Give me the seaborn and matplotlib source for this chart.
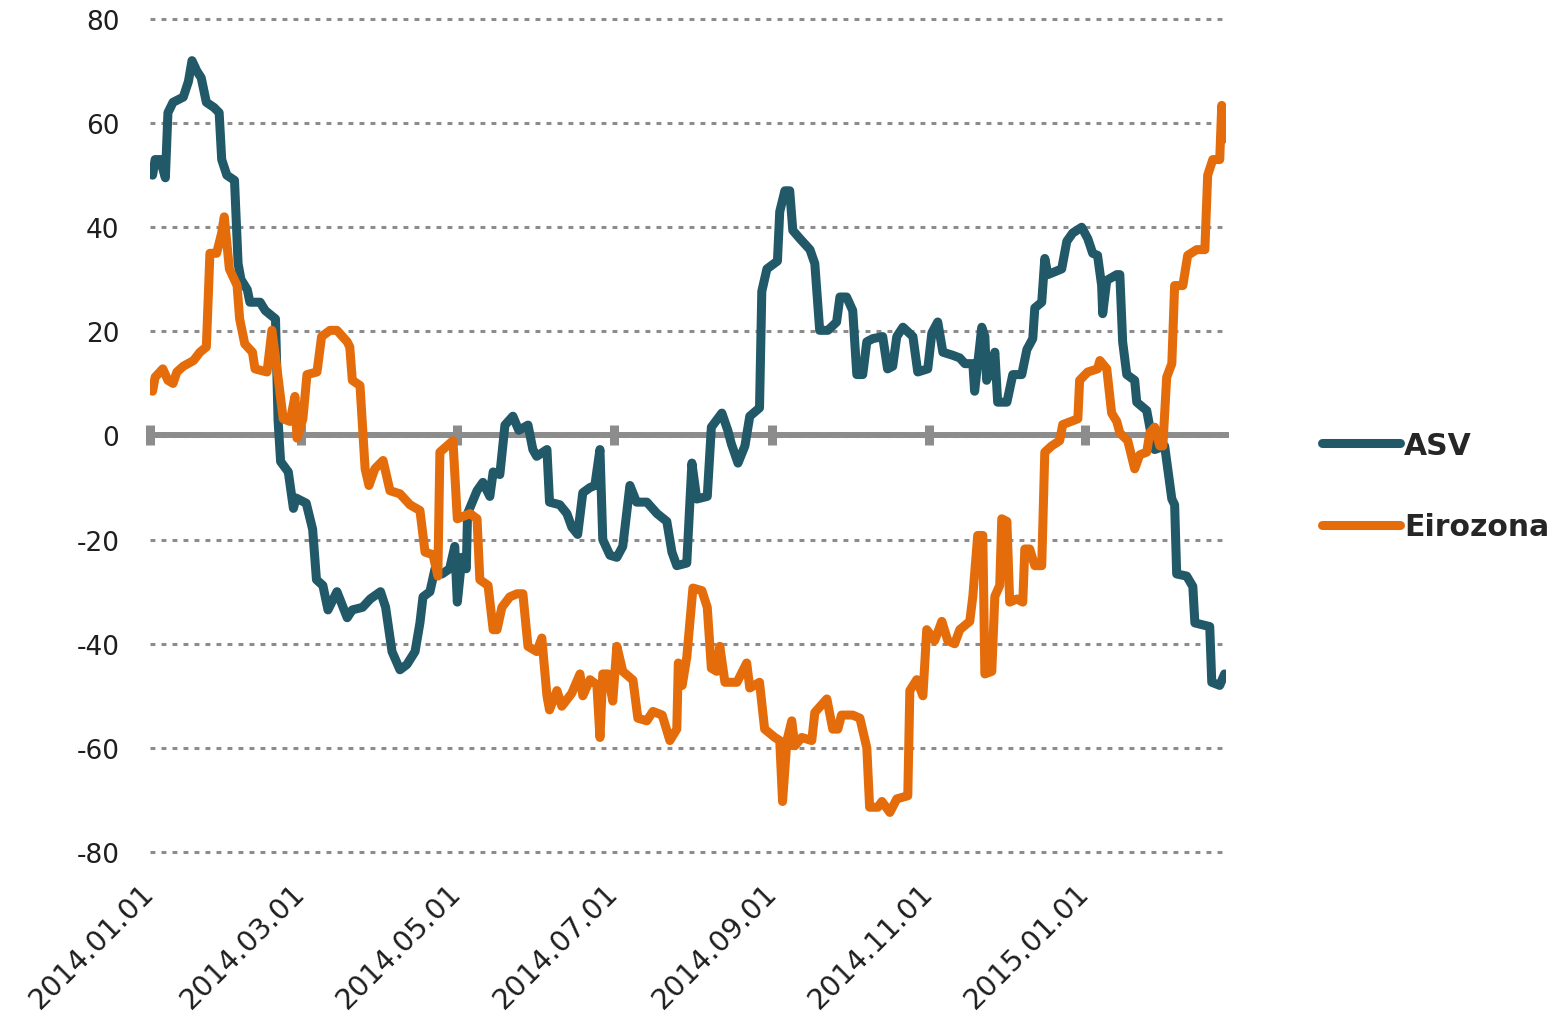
import pandas as pd
import matplotlib
matplotlib.use("Agg")
import matplotlib.pyplot as plt
import matplotlib.dates as mdates
import seaborn as sns

START = pd.Timestamp("2014-01-01")

# values, x as days after 2014-01-01
asv_day = [1, 2, 4, 6, 7, 9, 13, 15, 16.4, 18.3, 20, 22, 25, 27, 28, 30, 33, 34.4, 35.5, 38,
           39, 43, 45, 49, 50, 51, 54, 56, 57, 61, 63.5, 65, 67.5, 69.5, 73, 77, 79, 83, 86, 90,
           92, 94.5, 97.6, 100.3, 103.5, 105.4, 106.6, 109.3, 111.3, 114, 117, 119, 120, 121.8, 123.5, 124, 127.7, 130, 132.7, 134,
           136.6, 138.6, 141.7, 144, 147.6, 149.5, 151, 155, 156, 160, 162.8, 164.7, 167, 169, 171.8, 173.7, 175.7, 176.8, 179.6, 182.3,
           184.6, 187.4, 190, 194, 198, 201.8, 203.8, 205.7, 209.6, 211.6, 213.5, 217.6, 219.2, 223.3, 225.6, 227, 229.6, 232.3, 234.2, 238,
           238.9, 240.9, 245, 245.9, 247.9, 249.8, 251, 253.8, 257.7, 259.6, 261.5, 264.7, 268.1, 269.4, 272, 274.4, 276, 278.3, 279.9, 282.2,
           286.1, 288, 290, 291.6, 294, 297.9, 299.8, 303.7, 305.3, 307.6, 309.6, 313.5, 316.2, 318.2, 321.3, 322, 324.8, 326, 326.7, 328.7,
           329.9, 331, 334.6, 336.9, 340.4, 342.4, 344.7, 345.5, 348.2, 349.4, 350.6, 356, 358, 360.3, 363.8, 366.2, 368.1, 370, 371.6, 372,
           373.6, 377.5, 378.7, 379.8, 381.4, 384.5, 385.3, 389.2, 391.2, 392.3, 396.2, 399, 400.1, 400.9, 404.8, 407.2, 408, 413.8, 414.6, 417.7,
           419.6]
asv_val = [50, 53, 53, 49.5, 62, 64, 65, 68, 72, 70, 68.7, 64, 63, 62, 53, 50, 49, 33, 30, 28,
           25.6, 25.6, 24, 22.4, 3, -5, -7, -14, -12, -13, -18, -27.7, -28.8, -33.5, -30, -35, -33.5, -33, -31.4, -30,
           -33, -41.5, -45, -44, -41.5, -36, -31, -30, -25.6, -26.6, -25.6, -21.3, -32, -23.4, -25.6, -15, -10.6, -9, -11.7, -7,
           -7.5, 2, 3.7, 1, 2, -2.7, -4, -2.7, -12.8, -13.3, -15, -17.6, -19, -11, -10, -9.6, -2.7, -20, -23, -23.4,
           -21.3, -9.6, -12.8, -12.8, -15, -16.5, -22.4, -25, -24.5, -5.3, -12.2, -11.7, 1.6, 4.3, 1, -1.6, -5.3, -2, 3.7, 5.3,
           27.7, 32, 33.5, 43, 47, 47, 39.4, 37.8, 35.7, 33, 20.2, 20.2, 21.8, 26.6, 26.6, 24, 11.7, 11.7, 18, 18.6,
           19, 12.8, 13.3, 19, 20.8, 19, 12.2, 12.8, 19.7, 21.8, 16, 15.4, 14.9, 13.8, 13.8, 8.5, 20.8, 19, 10.6, 13.3,
           16, 6.4, 6.4, 11.7, 11.7, 16.5, 18.6, 24.5, 25.6, 34, 30.9, 32, 37.3, 38.9, 40, 37.8, 35, 34.6, 28.8, 23.4,
           29.8, 30.9, 30.9, 18, 11.7, 10.6, 6.4, 4.8, -0.5, -2.7, -2, -12.2, -13.3, -26.6, -27, -29, -36, -36.7, -47.4, -48,
           -45.8]

eur_day = [1, 2, 5, 7, 9, 10.5, 13, 17, 19.5, 22, 23.4, 26, 28, 29, 31, 34, 35, 37, 40, 41,
           45.7, 47.6, 49.6, 52, 54.7, 56.6, 57.4, 59.7, 61.3, 65.2, 67, 70.3, 73, 77, 78, 79, 82, 84, 85.5, 87.8,
           91, 93.7, 97.6, 101.5, 105.4, 107.4, 110.5, 112.4, 113.2, 116, 118.3, 120, 125, 127.7, 128.8, 132, 134, 135.5, 137.4, 140.5,
           143.3, 145.6, 147.6, 151, 153, 155, 156, 158.9, 160.8, 164.7, 167.9, 169, 171.8, 174.5, 175.7, 176.8, 178.8, 180.7, 182.3, 184.6,
           188.6, 190.5, 194, 196.4, 200, 203, 205.7, 206.3, 207.8, 209.6, 212, 215.5, 217.6, 219.2, 221.3, 222.5, 224.5, 229.2, 233, 234.2,
           238, 240, 244, 245.9, 247, 248.7, 250.6, 251.8, 254.5, 258.4, 259.6, 264.3, 266.6, 268.6, 270, 274.4, 277.2, 279.9, 281, 284.2,
           285.8, 288.9, 291.6, 295.9, 296.7, 299.4, 301.8, 303.3, 306.4, 309.2, 311.5, 314.2, 316.2, 320.1, 321.3, 323.2, 325.2, 326, 328.7, 329.9,
           331.8, 332.6, 334.6, 335.7, 338.5, 340.8, 341.6, 343.5, 345.5, 348.2, 349.4, 352.1, 355.2, 356.4, 362.3, 363, 366.2, 370, 370.9, 373.6,
           375.5, 377.5, 378.7, 381.8, 384.5, 386.5, 389.2, 390.4, 392.3, 394.3, 395.5, 397, 399, 400.1, 403.3, 405.2, 408.7, 411.9, 413, 415,
           417.7, 418.5, 419.6]
eur_val = [8.5, 11.2, 12.8, 10.6, 10, 12.2, 13.3, 14.4, 16, 17, 35, 35, 38.9, 42, 32, 28.8, 22.4, 17.6, 16, 12.8,
           12.2, 20.2, 12.8, 3.2, 2.7, 7.5, -0.5, 3.2, 11.7, 12.2, 19, 20.2, 20.2, 18, 17, 10.6, 9.6, -6.4, -9.6, -6.4,
           -4.8, -10.6, -11.2, -13.3, -14.4, -22.4, -22.9, -27, -3.2, -2, -1, -16, -15, -16, -27.7, -28.8, -37.3, -37.3, -33, -31,
           -30.4, -30.4, -40.5, -41.5, -38.9, -50, -52.7, -49, -52, -49.5, -45.8, -50, -46.9, -47.9, -58, -45.8, -45.8, -51, -40.5, -45.3,
           -47, -54.3, -54.8, -53, -53.7, -58.6, -56.4, -43.7, -48, -42.6, -29.3, -29.8, -33, -44.7, -45.3, -40.5, -47.4, -47.4, -43.7, -48.5,
           -47.4, -56.4, -58, -58.6, -70.3, -58.6, -54.8, -59.6, -58, -58.6, -53.2, -50.6, -56.4, -56.4, -53.7, -53.7, -54.3, -60, -71.4, -71.4,
           -70.3, -72.4, -69.8, -69.2, -49, -46.9, -50, -37.3, -39.4, -35.7, -39.4, -40, -37.3, -35.7, -30.9, -19.2, -19.2, -45.8, -45.3, -30.9,
           -28.8, -16, -16.5, -32, -31.4, -32, -21.8, -21.8, -25, -25, -3.2, -2, -1, 2.1, 3.2, 10.6, 12.2, 12.8, 14.4, 12.8,
           4.3, 2.7, 0.5, -1, -6.4, -3.7, -3.2, 0.5, 1.6, -2, -2, 11.2, 13.8, 28.8, 28.8, 34.6, 35.7, 35.7, 50, 53,
           53, 63.4, 57]

series_names = ["ASV", "Eirozona"]
series_colors = ["#215968", "#E46C0A"]
tick_dates = ["2014-01-01", "2014-03-01", "2014-05-01", "2014-07-01",
              "2014-09-01", "2014-11-01", "2015-01-01"]
y_ticks = [80, 60, 40, 20, 0, -20, -40, -60, -80]

GREY = "#8c8c8c"

df = pd.concat([
    pd.DataFrame({"date": START + pd.to_timedelta(asv_day, unit="D"), "value": asv_val, "series": series_names[0]}),
    pd.DataFrame({"date": START + pd.to_timedelta(eur_day, unit="D"), "value": eur_val, "series": series_names[1]}),
], ignore_index=True)

sns.set_theme(style="white")
plt.rcParams["font.family"] = ["DejaVu Sans"]
plt.rcParams["axes.unicode_minus"] = False

W, H = 1557, 1020
fig = plt.figure(figsize=(W / 100, H / 100), dpi=100)
# y=80 at px 20, y=-80 at px 853; pad limits by one unit so edge gridlines are not clipped
unit = (853 - 20) / 160
ax = fig.add_axes([150 / W, 1 - (853 + unit) / H, (1225.6 - 150) / W, 162 * unit / H])

sns.lineplot(data=df, x="date", y="value", hue="series", hue_order=series_names,
             palette=dict(zip(series_names, series_colors)), linewidth=6.5,
             sort=False, estimator=None, solid_joinstyle="round", ax=ax, zorder=3)

ax.set_xlim(START, START + pd.Timedelta(days=420))
ax.set_ylim(-81, 81)
ax.set_yticks(y_ticks)
tick_num = mdates.date2num(pd.to_datetime(tick_dates))
ax.set_xticks(tick_num)
ax.xaxis.set_major_formatter(mdates.DateFormatter("%Y.%m.%d"))
ax.set_xlabel("")
ax.set_ylabel("")

ax.set_axisbelow(True)
ax.grid(axis="y", color=GREY, linestyle=(0, (1.6, 2.0)), linewidth=2.2)
ax.grid(axis="x", visible=False)
for s in ax.spines.values():
    s.set_visible(False)
ax.tick_params(axis="both", length=0)
ax.tick_params(axis="y", pad=22, labelsize=19, labelcolor="#1e1e1e")
ax.tick_params(axis="x", pad=22, labelsize=20.5, labelcolor="#1e1e1e")
for lbl in ax.get_xticklabels():
    lbl.set_rotation(45)
    lbl.set_ha("right")
    lbl.set_va("center")
    lbl.set_rotation_mode("anchor")

# zero line with square tick marks
sec = ax.secondary_xaxis(0.5)
sec.set_xticks(tick_num)
sec.tick_params(direction="inout", length=14, width=6.5, color=GREY,
                labelbottom=False, labeltop=False)
for s in sec.spines.values():
    s.set_color(GREY)
    s.set_linewidth(4.3)
sec.set_zorder(1)

handles, labels = ax.get_legend_handles_labels()
ax.get_legend().remove()
for h in handles:
    h.set_linewidth(6.5)
    h.set_solid_capstyle("round")
fig.legend(handles, labels, loc="center left", bbox_to_anchor=(1322 / W, 1 - 487 / H),
           frameon=False, borderpad=0, borderaxespad=0, handlelength=2.6,
           handletextpad=0.15, labelspacing=1.75,
           prop={"size": 21.5, "weight": "bold"})

fig.savefig("out.png", dpi=100)
